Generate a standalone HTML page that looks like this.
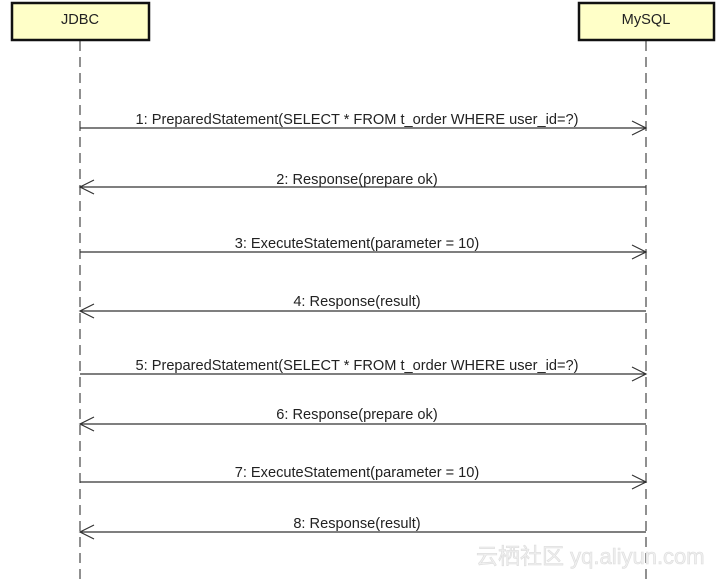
<!DOCTYPE html>
<html><head><style>
body{margin:0;width:724px;height:580px;background:#fff;overflow:hidden;}
svg text{font-family:"Liberation Sans",sans-serif;font-size:14.6px;fill:#222;}
</style></head><body>
<svg width="724" height="580" xmlns="http://www.w3.org/2000/svg">
<rect x="12" y="3" width="137" height="37" fill="#ffffc8" stroke="#111" stroke-width="2.5"/>
<rect x="579" y="3" width="135" height="37" fill="#ffffc8" stroke="#111" stroke-width="2.5"/>
<text x="80" y="24" text-anchor="middle">JDBC</text>
<text x="646" y="24" text-anchor="middle">MySQL</text>
<line x1="80" y1="41" x2="80" y2="580" stroke="#222" stroke-width="1" stroke-dasharray="10,6"/>
<line x1="646" y1="41" x2="646" y2="580" stroke="#222" stroke-width="1" stroke-dasharray="10,6"/>
<g stroke="#333" stroke-width="1.2" fill="none">
<line x1="80" y1="128" x2="646" y2="128"/><polyline points="632,121 646,128 632,135"/>
<line x1="80" y1="187" x2="646" y2="187"/><polyline points="94,180 80,187 94,194"/>
<line x1="80" y1="252" x2="646" y2="252"/><polyline points="632,245 646,252 632,259"/>
<line x1="80" y1="311" x2="646" y2="311"/><polyline points="94,304 80,311 94,318"/>
<line x1="80" y1="374" x2="646" y2="374"/><polyline points="632,367 646,374 632,381"/>
<line x1="80" y1="424" x2="646" y2="424"/><polyline points="94,417 80,424 94,431"/>
<line x1="80" y1="482" x2="646" y2="482"/><polyline points="632,475 646,482 632,489"/>
<line x1="80" y1="532" x2="646" y2="532"/><polyline points="94,525 80,532 94,539"/>
</g>
<g text-anchor="middle">
<text x="357" y="124">1: PreparedStatement(SELECT * FROM t_order WHERE user_id=?)</text>
<text x="357" y="184">2: Response(prepare ok)</text>
<text x="357" y="248">3: ExecuteStatement(parameter = 10)</text>
<text x="357" y="306">4: Response(result)</text>
<text x="357" y="370">5: PreparedStatement(SELECT * FROM t_order WHERE user_id=?)</text>
<text x="357" y="419">6: Response(prepare ok)</text>
<text x="357" y="477">7: ExecuteStatement(parameter = 10)</text>
<text x="357" y="528">8: Response(result)</text>
</g>
<text x="476" y="564" style="font-family:'Liberation Sans','Noto Sans CJK SC',sans-serif;font-size:22px;fill:#f0f0f0;stroke:#dcdcdc;stroke-width:0.6">云栖社区 yq.aliyun.com</text>
</svg>
</body></html>
